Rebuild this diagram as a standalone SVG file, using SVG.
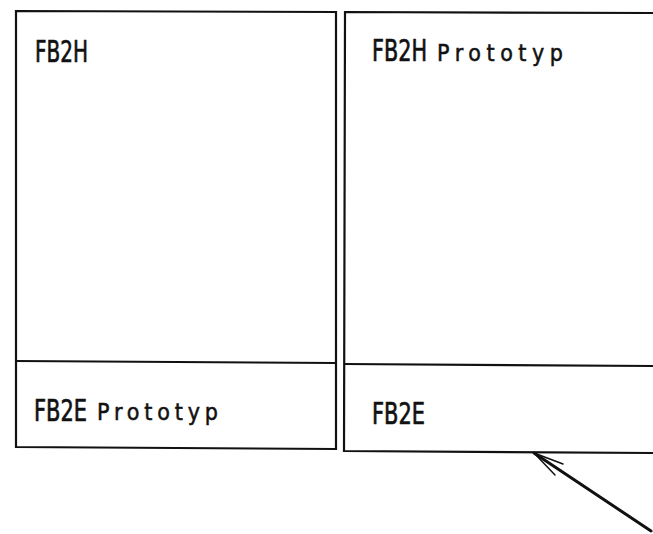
<svg xmlns="http://www.w3.org/2000/svg" width="653" height="534" viewBox="0 0 653 534">
<style>
.box{fill:none;stroke:#111;stroke-width:2.2}
.big{font-family:"DejaVu Sans Condensed","Liberation Sans",sans-serif;font-size:31px;fill:#111;stroke:#111;stroke-width:0.7}
.small{font-family:"DejaVu Sans Condensed","Liberation Sans",sans-serif;font-size:23px;fill:#111;stroke:#111;stroke-width:0.5}
.arrow{fill:none;stroke:#111;stroke-linecap:round}
</style>
<rect width="653" height="534" fill="#fff"/>
<g id="left-unit">
<path class="box" d="M16 11 L336 12 L336 449 L16 447 Z"/>
<path class="box" d="M16 361 L336 363"/>
</g>
<g id="left-fb2h">
<text class="big" x="35" y="62" textLength="53" lengthAdjust="spacingAndGlyphs">FB2H</text>
</g>
<g id="left-fb2e">
<text class="big" x="34" y="421" textLength="53" lengthAdjust="spacingAndGlyphs">FB2E</text>
<text class="small" x="97" y="420" textLength="121" lengthAdjust="spacing">Prototyp</text>
</g>
<g id="right-unit">
<path class="box" d="M653 13 L345 12 L344 451 L653 453"/>
<path class="box" d="M344 364 L653 366"/>
</g>
<g id="right-fb2h">
<text class="big" x="372" y="61" textLength="55" lengthAdjust="spacingAndGlyphs">FB2H</text>
<text class="small" x="437" y="61" textLength="126" lengthAdjust="spacing">Prototyp</text>
</g>
<g id="right-fb2e">
<text class="big" x="372" y="424" textLength="53" lengthAdjust="spacingAndGlyphs">FB2E</text>
</g>
<g id="connectors">
<path class="arrow" stroke-width="3" d="M651 531 L534 453"/>
<path class="arrow" stroke-width="1.5" d="M534 453 L563 464 M534 453 L555 475"/>
</g>
</svg>
